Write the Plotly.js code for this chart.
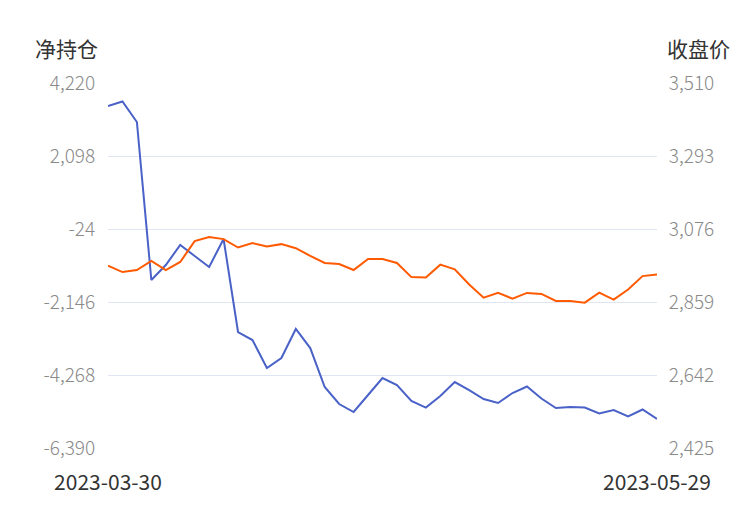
<!DOCTYPE html>
<html>
<head>
<meta charset="utf-8">
<script src="https://cdn.plot.ly/plotly-3.0.1.min.js"></script>
<style>html,body{margin:0;padding:0;background:#fff;}#chart{width:750px;height:510px;}</style>
</head>
<body>
<div id="chart"></div>
<script>
const dates = [
  "2023-03-30","2023-03-31",
  "2023-04-03","2023-04-04","2023-04-06","2023-04-07",
  "2023-04-10","2023-04-11","2023-04-12","2023-04-13","2023-04-14",
  "2023-04-17","2023-04-18","2023-04-19","2023-04-20","2023-04-21",
  "2023-04-24","2023-04-25","2023-04-26","2023-04-27","2023-04-28",
  "2023-05-04","2023-05-05",
  "2023-05-08","2023-05-09","2023-05-10","2023-05-11","2023-05-12",
  "2023-05-15","2023-05-16","2023-05-17","2023-05-18","2023-05-19",
  "2023-05-22","2023-05-23","2023-05-24","2023-05-25","2023-05-26",
  "2023-05-29"
];
const netPosition = [
  3551, 3682, 3086, -1507, -1071, -489, -809, -1129, -315, -3018,
  -3251, -4065, -3774, -2931, -3484, -4617, -5111, -5344, -4850, -4356,
  -4559, -5024, -5214, -4879, -4472, -4705, -4966, -5082, -4792, -4603,
  -4952, -5228, -5199, -5214, -5388, -5286, -5475, -5271, -5548
];
const closePrice = [
  2967, 2948, 2954, 2981, 2954, 2978, 3040, 3052, 3046, 3021,
  3034, 3024, 3031, 3019, 2996, 2975, 2972, 2954, 2987, 2987,
  2975, 2933, 2932, 2970, 2956, 2911, 2872, 2886, 2869, 2886,
  2883, 2862, 2862, 2857, 2887, 2866, 2896, 2936, 2941
];
const leftTicks = [-6390, -4268, -2146, -24, 2098, 4220];
const rightTicks = [2425, 2642, 2859, 3076, 3293, 3510];
const fmt = v => (v < 0 ? "-" : "") + Math.abs(v).toLocaleString("en-US");

const font = "Noto Sans CJK SC, Noto Sans, sans-serif";
const traces = [
  {x: dates, y: netPosition, type: "scatter", mode: "lines", name: "净持仓",
   line: {color: "#4a62c8", width: 2}, yaxis: "y"},
  {x: dates, y: closePrice, type: "scatter", mode: "lines", name: "收盘价",
   line: {color: "#ff5a00", width: 2}, yaxis: "y2"}
];
const layout = {
  width: 750, height: 510,
  margin: {l: 108, r: 93, t: 83, b: 62},
  paper_bgcolor: "#fff", plot_bgcolor: "#fff",
  showlegend: false,
  font: {family: font},
  xaxis: {
    type: "category", range: [0, dates.length - 1],
    tickvals: [dates[0], dates[dates.length - 1]],
    ticktext: [dates[0], dates[dates.length - 1]],
    showgrid: false, zeroline: false, showline: false,
    ticks: "outside", ticklen: 16, tickcolor: "rgba(0,0,0,0)",
    tickfont: {size: 21, color: "#333", family: font}
  },
  yaxis: {
    range: [-6390, 4220], tickvals: leftTicks, ticktext: leftTicks.map(fmt),
    showgrid: true, gridcolor: "#e0e6f1", gridwidth: 1, zeroline: false, showline: false,
    ticks: "outside", ticklen: 8, tickcolor: "rgba(0,0,0,0)",
    tickfont: {size: 19, color: "#8a8a8a", family: font, weight: 300}
  },
  yaxis2: {
    overlaying: "y", side: "right",
    range: [2425, 3510], tickvals: rightTicks, ticktext: rightTicks.map(fmt),
    showgrid: false, zeroline: false, showline: false,
    ticks: "outside", ticklen: 7, tickcolor: "rgba(0,0,0,0)",
    tickfont: {size: 19, color: "#8a8a8a", family: font, weight: 300}
  },
  annotations: [
    {text: "净持仓", xref: "paper", yref: "paper", x: -0.0765, y: 1.0, xanchor: "center", yanchor: "bottom",
     yshift: 18, showarrow: false, font: {size: 21, color: "#333", family: font}},
    {text: "收盘价", xref: "paper", yref: "paper", x: 1.0747, y: 1.0, xanchor: "center", yanchor: "bottom",
     yshift: 18, showarrow: false, font: {size: 21, color: "#333", family: font}}
  ]
};
Plotly.newPlot("chart", traces, layout, {displayModeBar: false, staticPlot: true});
</script>
</body>
</html>
